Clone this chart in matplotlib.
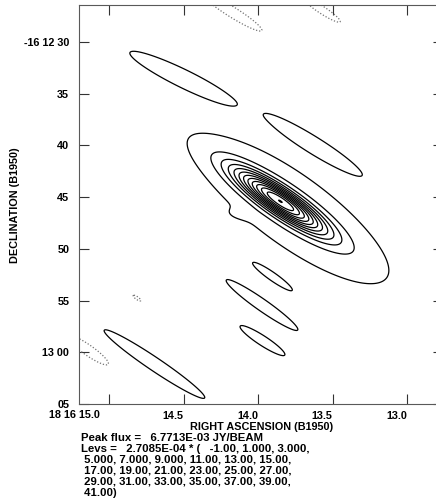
import numpy as np
import matplotlib
matplotlib.use('Agg')
import matplotlib.pyplot as plt

# contour levels (AIPS style): base * multipliers
peak_flux = 6.7713E-03
lev_base = 2.7085E-04
lev_mult = [-1, 1, 3, 5, 7, 9, 11, 13, 15, 17, 19, 21, 23, 25, 27, 29, 31,
            33, 35, 37, 39, 41]

# source components (RA sec of 18h16m, Dec arcsec below -16d12m)
ra_c = [13.852, 13.772, 14.121, 14.505, 13.627, 13.903, 13.973, 13.970, 14.695,
        14.174, 13.570, 15.141, 14.812]
dec_c = [45.38, 46.25, 46.63, 33.50, 39.96, 52.68, 55.43, 58.87, 61.14,
         27.10, 26.91, 59.79, 54.76]
amp = [22.1, 3.0, 0.6, 2.8, 2.8, 2.8, 2.8, 2.8, 2.8,
       -2.8, -2.8, -2.8, -1.3]
sig_maj = [3.5, 7.5, 1.0, 3.95, 3.83, 1.6, 2.95, 1.8, 4.1, 2.37, 1.46, 1.67, 0.5]
sig_min = [0.8, 2.3, 0.4, 0.6, 0.56, 0.27, 0.40, 0.33, 0.45, 0.35, 0.25, 0.35, 0.15]
pa = [34, 36, 5, 26, 32, 35, 35, 33, 34, 32, 33, 35, 35]
edge = [1.0, 1.0, 1.0, 1.5, 1.5, 1.5, 1.5, 1.5, 1.5, 1.5, 1.5, 1.5, 1.5]

ra_ticks = [15.0, 14.5, 14.0, 13.5, 13.0]
ra_labels = ['18 16 15.0', '14.5', '14.0', '13.5', '13.0']
dec_ticks = [30, 35, 40, 45, 50, 55, 60, 65]
dec_labels = ['-16 12 30', '35', '40', '45', '50', '55', '13 00', '05']

cosd = 15.0 * np.cos(np.radians(16.2))  # arcsec per RA second

ra = np.linspace(15.3, 12.7, 700)
dec = np.linspace(25.5, 66.0, 700)
RA, DEC = np.meshgrid(ra, dec)
field = np.zeros_like(RA)
for i in range(len(amp)):
    du = (ra_c[i] - RA) * cosd
    dv = DEC - dec_c[i]
    t = np.radians(pa[i])
    a = du*np.cos(t) + dv*np.sin(t)
    b = -du*np.sin(t) + dv*np.cos(t)
    q = a**2/(2*sig_maj[i]**2) + b**2/(2*sig_min[i]**2)
    field += amp[i] * np.exp(-q**edge[i])
field *= lev_base

levels = [lev_base*m for m in lev_mult]
cols = ['0.45' if m < 0 else 'black' for m in lev_mult]
styles = [(0, (1, 1.5)) if m < 0 else 'solid' for m in lev_mult]

plt.rcParams['font.family'] = ['Liberation Sans', 'DejaVu Sans']
fs = 7.8
fs2 = 8.2

fig = plt.figure(figsize=(4.36, 5.0), dpi=100)
ax = fig.add_axes([79/436, 1-404/500, (443-79)/436, (404-5)/500])
ax.contour(RA, DEC, field, levels=levels, colors=cols, linestyles=styles,
           linewidths=0.9)

ax.set_xlim(15.0 + 30/149, 13.0 - 36/149)
ax.set_ylim(65.0, 30 - 37/10.34)

ax.set_xticks(ra_ticks)
ax.set_xticklabels([''] + ra_labels[1:], ha='right', fontsize=fs, fontweight='bold')
ax.set_yticks(dec_ticks)
ax.set_yticklabels(dec_labels, fontsize=fs, fontweight='bold')
ax.tick_params(direction='in', length=7, width=0.8, color='0.2',
               top=True, right=True)
ax.tick_params(axis='x', pad=5)
ax.tick_params(axis='y', pad=7)
for s in ax.spines.values():
    s.set_color('0.35')
    s.set_linewidth(0.8)

fig.text(100/436, 1-415.5/500, ra_labels[0], ha='right', va='center',
         fontsize=fs, fontweight='bold')
fig.text(262/436, 1-426.5/500, 'RIGHT ASCENSION (B1950)', ha='center',
         va='center', fontsize=fs, fontweight='bold')
fig.text(15/436, 1-205/500, 'DECLINATION (B1950)', ha='center', va='center',
         rotation=90, fontsize=fs, fontweight='bold')

m = lev_mult
lines = ['Peak flux =   %.4E JY/BEAM' % peak_flux,
         'Levs =   %.4E * (   %.2f, %.3f, %.3f,' % (lev_base, m[0], m[1], m[2]),
         ' %.3f, %.3f, %.3f, %.2f, %.2f, %.2f,' % tuple(m[3:9]),
         ' %.2f, %.2f, %.2f, %.2f, %.2f, %.2f,' % tuple(m[9:15]),
         ' %.2f, %.2f, %.2f, %.2f, %.2f, %.2f,' % tuple(m[15:21]),
         ' %.2f)' % m[21]]
ys = [438, 448.5, 459.5, 470.5, 482, 493]
for txt, y in zip(lines, ys):
    fig.text(81/436, 1-y/500, txt, ha='left', va='center', fontsize=fs2,
             fontweight='bold')

fig.savefig('out.png', dpi=100)
